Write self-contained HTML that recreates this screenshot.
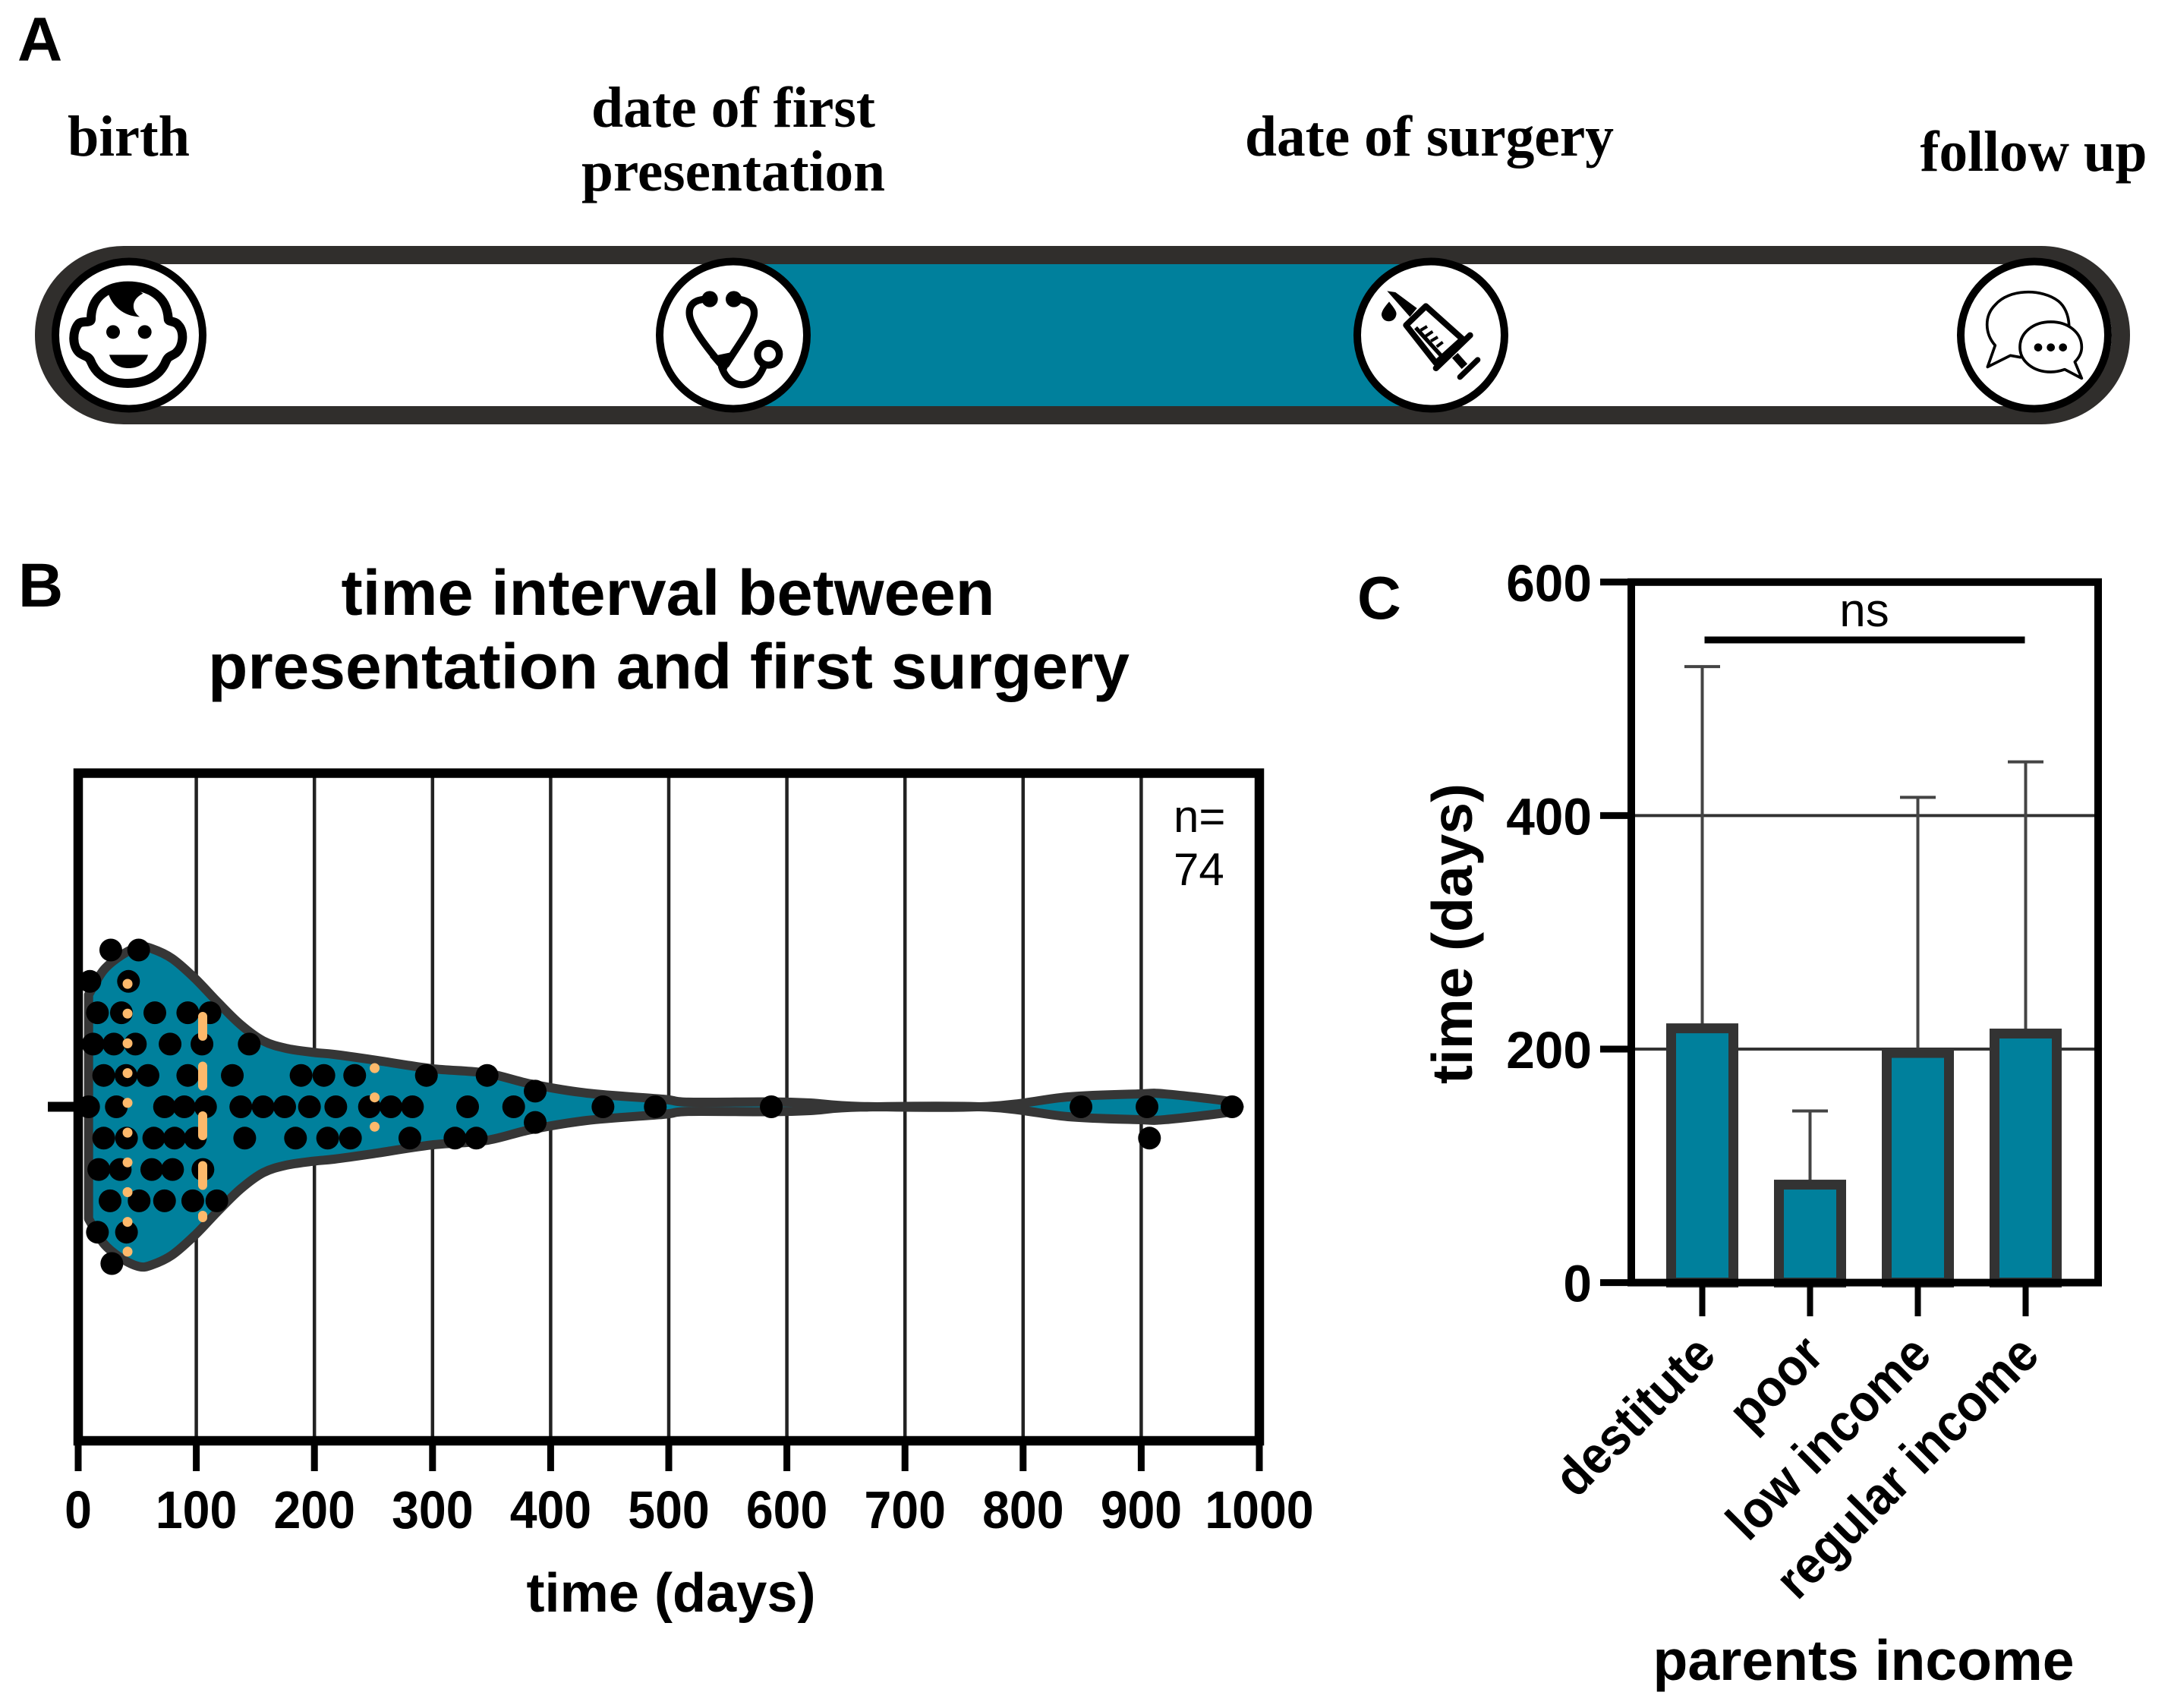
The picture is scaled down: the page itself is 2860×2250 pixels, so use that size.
<!DOCTYPE html>
<html lang="en">
<head>
<meta charset="utf-8">
<title>Time interval between presentation and first surgery</title>
<style>
html,body{margin:0;padding:0;background:#fff;width:2860px;height:2250px;overflow:hidden}
svg{display:block}
text{font-family:"Liberation Sans",sans-serif;fill:#000}
.serif{font-family:"Liberation Serif",serif;font-weight:bold}
.b{font-weight:bold}
</style>
</head>
<body>
<svg id="fig" xmlns="http://www.w3.org/2000/svg" width="2860" height="2250" viewBox="0 0 2860 2250">
  <rect width="2860" height="2250" fill="#fff"/>

  <!-- Panel A -->
  <g>
    <text class="b" x="23" y="80" font-size="82">A</text>
    <text class="serif" x="169.5" y="205" font-size="76" text-anchor="middle" textLength="161" lengthAdjust="spacingAndGlyphs">birth</text>
    <text class="serif" x="966" y="167" font-size="76" text-anchor="middle" textLength="374" lengthAdjust="spacingAndGlyphs">date of first</text>
    <text class="serif" x="966" y="251" font-size="76" text-anchor="middle" textLength="400" lengthAdjust="spacingAndGlyphs">presentation</text>
    <text class="serif" x="1883" y="205" font-size="76" text-anchor="middle" textLength="486" lengthAdjust="spacingAndGlyphs">date of surgery</text>
    <text class="serif" x="2679" y="225" font-size="76" text-anchor="middle" textLength="299" lengthAdjust="spacingAndGlyphs">follow up</text>

    <rect x="966" y="347" width="919" height="191" fill="#00809c"/>
    <rect x="58" y="336" width="2736" height="211" rx="105" ry="105" fill="none" stroke="#302e2c" stroke-width="24"/>

    <circle cx="170" cy="441.5" r="97" fill="#fff" stroke="#000" stroke-width="10"/>
    <circle cx="966" cy="441.5" r="97" fill="#fff" stroke="#000" stroke-width="10"/>
    <circle cx="1885" cy="441.5" r="97" fill="#fff" stroke="#000" stroke-width="10"/>
    <circle cx="2680" cy="441.5" r="97" fill="#fff" stroke="#000" stroke-width="10"/>

    <g transform="translate(40 320) scale(.33333)">
      <path d="M240 300C240 210 310 170 385 170C470 170 540 210 545 300C545 315 570 305 585 325C610 350 605 410 575 435C555 450 545 445 535 470C510 530 450 555 385 555C320 555 265 530 240 470C230 445 215 450 195 435C165 410 165 350 190 320C205 305 240 320 240 300Z" fill="#fff" stroke="#000" stroke-width="36" stroke-linejoin="round"/>
      <path d="M305 190C320 250 370 290 432 292C400 270 395 225 445 200C400 165 340 165 305 190Z" fill="#000"/>
      <circle cx="327" cy="352" r="27" fill="#000"/>
      <circle cx="452" cy="352" r="27" fill="#000"/>
      <path d="M312 442L465 442C455 480 420 495 388 495C355 495 322 480 312 442Z" fill="#000"/>
    </g>

    <g transform="translate(850 320) scale(.33333)" fill="none" stroke="#000" stroke-width="28" stroke-linecap="round">
      <circle cx="255" cy="222" r="32" fill="#000" stroke="none"/>
      <circle cx="350" cy="222" r="32" fill="#000" stroke="none"/>
      <path d="M250 222C200 222 170 240 175 285C180 330 240 410 300 480"/>
      <path d="M350 222C400 222 435 240 430 285C425 330 370 400 320 480"/>
      <path d="M255 450L350 430L315 520Z" fill="#000" stroke="none"/>
      <path d="M302 490C320 545 360 568 400 558C440 548 455 520 468 490"/>
      <circle cx="487" cy="440" r="43" fill="#fff" stroke-width="28"/>
    </g>

    <g transform="translate(1770 320) scale(.33333)" stroke="#000" fill="none" stroke-linejoin="round">
      <path d="M172 190L205 195L290 258L262 292Z" fill="#000" stroke="none"/>
      <path d="M180 232C200 258 212 272 208 285C202 318 155 318 150 285C150 265 170 245 180 232Z" fill="#000" stroke="none"/>
      <path d="M325 250L247 325L365 475L470 380Z" fill="#fff" stroke-width="24"/>
      <path d="M285 335L385 445" stroke-width="16"/>
      <path d="M305 345L330 330M325 368L352 350M345 388L372 372M368 410L392 392" stroke-width="12"/>
      <path d="M500 365L365 495" stroke-width="24" stroke-linecap="round"/>
      <path d="M440 445L478 488" stroke-width="30"/>
      <path d="M530 462L460 530" stroke-width="22" stroke-linecap="round"/>
    </g>

    <g transform="translate(2560 320) scale(.33333)" fill="#fff" stroke="#000" stroke-width="11" stroke-linejoin="round">
      <path d="M205 405C165 360 160 290 205 245C260 180 390 180 455 230C480 250 495 285 497 325L305 452L265 445L175 490Z"/>
      <path d="M425 312C495 312 547 355 547 412C547 435 535 455 520 470L547 535L480 500C460 507 440 510 425 510C355 510 303 467 303 412C303 355 355 312 425 312Z"/>
      <g fill="#000" stroke="none">
        <circle cx="375" cy="413" r="16"/>
        <circle cx="425" cy="413" r="16"/>
        <circle cx="473" cy="413" r="16"/>
      </g>
    </g>
  </g>

  <!-- Panel B static text -->
  <text class="b" x="24" y="799" font-size="82">B</text>
  <text class="b" x="880" y="810" font-size="84" text-anchor="middle" textLength="861" lengthAdjust="spacingAndGlyphs">time interval between</text>
  <text class="b" x="881" y="907" font-size="84" text-anchor="middle" textLength="1214" lengthAdjust="spacingAndGlyphs">presentation and first surgery</text>
  <text class="b" x="884" y="2123" font-size="72" text-anchor="middle" textLength="381" lengthAdjust="spacingAndGlyphs">time (days)</text>
  <g id="chartB"></g>
  <text x="1546" y="1096" font-size="60">n=</text>
  <text x="1546" y="1166" font-size="60">74</text>

  <!-- Panel C static text -->
  <text class="b" x="1788" y="815" font-size="80">C</text>
  <text class="b" transform="translate(1939 1230) rotate(-90)" font-size="75" text-anchor="middle" textLength="396" lengthAdjust="spacingAndGlyphs">time (days)</text>
  <text class="b" x="2455" y="2213" font-size="75" text-anchor="middle" textLength="555" lengthAdjust="spacingAndGlyphs">parents income</text>
  <g id="chartC"></g>
</svg>

<script>
/* ---------- Chart B data ---------- */
var xTickValues = [0,100,200,300,400,500,600,700,800,900,1000];
var violinDays = [8.8,21.6,36.6,51.6,62.3,79.5,98.8,118,137.3,156.6,175.9,199.5,216.6,248.7,298.9,345,383.6,430.7,495,516.6,586,620,662,770,838,897,920,975,983];
var violinDensity = [68,83,92,97,96,90,78,63.6,50,40,35.5,33,31.8,28.6,23.2,20.5,13.8,8.3,4.6,2.8,3,2.3,0.2,0.2,6,7.8,7.8,3.2,0];
var pointDays = [
  27.6,51.2,
  9.9,42.6,
  16.3,36.6,64.9,92.8,111.6,
  12.6,30.2,48.4,77.8,104.8,144.8,
  21.6,40.5,59.1,92.8,130.5,188.7,208,234.1,294.8,346.2,
  8.8,32.3,73.1,89.8,107.8,137.7,156.6,174.8,195.8,218.1,246.6,264.8,283,329.7,368.7,444.3,488.6,586.8,849,904.9,976.9,
  21.6,40.9,64,81.6,99.2,141,184,211.2,230.5,280.8,319,337,907,
  17.4,35.6,62.3,79.9,105.6,
  27,51.6,73.1,97,117.4,
  16.3,40.9,
  28.5,
  386.9,386.9
];
var pointRows = [
  -5,-5,
  -4,-4,
  -3,-3,-3,-3,-3,
  -2,-2,-2,-2,-2,-2,
  -1,-1,-1,-1,-1,-1,-1,-1,-1,-1,
  0,0,0,0,0,0,0,0,0,0,0,0,0,0,0,0,0,0,0,0,0,
  1,1,1,1,1,1,1,1,1,1,1,1,1,
  2,2,2,2,2,
  3,3,3,3,3,
  4,4,
  5,
  -0.5,0.5
];
var firstQuartileDay = 41.8;
var medianDay = 105.4;
var thirdQuartileDay = 251;

/* ---------- Chart C data ---------- */
var incomeCategories = ['destitute','poor','low income','regular income'];
var incomeMeans = [217.8,83.9,196.7,213.3];
var incomeErrorTops = [527.6,147,415.6,446];
var yTickValues = [0,200,400,600];
var SVGNS = 'http://www.w3.org/2000/svg';

function mk(parent, tag, attrs) {
  var el = document.createElementNS(SVGNS, tag);
  for (var k in attrs) el.setAttribute(k, attrs[k]);
  parent.appendChild(el);
  return el;
}

/* ---------- Chart B ---------- */
(function () {
  var g = document.getElementById('chartB');
  var x0 = 103, pxPerDay = 1.556, yc = 1458, rowStep = 41.3, pxPerDensity = 2.17;
  var top = 1018.5, bottom = 1898, right = x0 + 1000 * pxPerDay;
  function X(d) { return x0 + d * pxPerDay; }
  function H(v) { return v * pxPerDensity; }
  function Y(r) { return yc + r * rowStep; }

  xTickValues.forEach(function (t) {
    if (t > 0 && t < 1000) {
      var gl = mk(g, 'line', {x1: X(t), x2: X(t), y1: top, y2: bottom, stroke: '#222', 'stroke-width': 4.5});
      
      
    }
    var tk = mk(g, 'line', {x1: X(t), x2: X(t), y1: bottom, y2: 1938, stroke: '#000', 'stroke-width': 9});
    
    
    var s = String(t);
    var lb = mk(g, 'text', {x: X(t), y: 2013, 'font-size': 70, 'font-weight': 'bold', 'text-anchor': 'middle',
      textLength: s.length * 0.556 * 70 * 0.92, lengthAdjust: 'spacingAndGlyphs'});
    lb.textContent = s;
    
    
  });

  var yt = mk(g, 'line', {x1: 63, x2: x0, y1: yc, y2: yc, stroke: '#000', 'stroke-width': 13});
  
  

  var upper = violinDays.map(function (d, i) { return [X(d), yc - H(violinDensity[i])]; });
  var lower = violinDays.map(function (d, i) { return [X(d), yc + H(violinDensity[i])]; }).reverse();
  function smooth(p, start) {
    var s = start ? 'M' + p[0][0] + ' ' + p[0][1] : 'L' + p[0][0] + ' ' + p[0][1];
    for (var i = 0; i < p.length - 1; i++) {
      var a = p[Math.max(0, i - 1)], b = p[i], c = p[i + 1], e = p[Math.min(p.length - 1, i + 2)];
      s += 'C' + (b[0] + (c[0] - a[0]) / 6) + ' ' + (b[1] + (c[1] - a[1]) / 6) + ' ' +
           (c[0] - (e[0] - b[0]) / 6) + ' ' + (c[1] - (e[1] - b[1]) / 6) + ' ' + c[0] + ' ' + c[1];
    }
    return s;
  }
  var v = mk(g, 'path', {d: smooth(upper, true) + smooth(lower, false) + 'Z', fill: '#00809c', stroke: '#363636',
    'stroke-width': 12, 'stroke-linejoin': 'round'});
  
  

  pointDays.forEach(function (d, i) {
    var c = mk(g, 'circle', {cx: X(d), cy: Y(pointRows[i]), r: 15, fill: '#000'});
    
    
  });

  var q1 = mk(g, 'line', {x1: X(firstQuartileDay), x2: X(firstQuartileDay), y1: yc - 162, y2: yc + 191,
    stroke: '#fdb96b', 'stroke-width': 13, 'stroke-linecap': 'round', 'stroke-dasharray': '0.1 39.1'});
  
  
  var med = mk(g, 'line', {x1: X(medianDay), x2: X(medianDay), y1: yc - 119, y2: yc + 146,
    stroke: '#fdb96b', 'stroke-width': 12, 'stroke-linecap': 'round', 'stroke-dasharray': '26 39.5'});
  
  
  var q3 = mk(g, 'line', {x1: X(thirdQuartileDay), x2: X(thirdQuartileDay), y1: yc - 51, y2: yc + 27,
    stroke: '#fdb96b', 'stroke-width': 13, 'stroke-linecap': 'round', 'stroke-dasharray': '0.1 38.5'});
  
  

  var fr = mk(g, 'rect', {x: x0, y: top, width: right - x0, height: bottom - top, fill: 'none', stroke: '#000', 'stroke-width': 12.5});
  
  
})();

/* ---------- Chart C ---------- */
(function () {
  var g = document.getElementById('chartC');
  var left = 2149, right = 2764, y0 = 1689.6, pxPerDay = 1.538, firstX = 2242.5, step = 142, barW = 82;
  function Y(v) { return y0 - v * pxPerDay; }
  function X(i) { return firstX + i * step; }

  yTickValues.forEach(function (t) {
    if (t > 0 && t < 600) {
      var gl = mk(g, 'line', {x1: left, x2: right, y1: Y(t), y2: Y(t), stroke: '#333', 'stroke-width': 4});
      
      
    }
    var tk = mk(g, 'line', {x1: 2108, x2: left, y1: Y(t), y2: Y(t), stroke: '#000', 'stroke-width': 9});
    
    
    var s = String(t);
    var lb = mk(g, 'text', {x: 2097, y: Y(t) + 25, 'font-size': 69, 'font-weight': 'bold', 'text-anchor': 'end',
      textLength: s.length * 0.556 * 69 * 0.98, lengthAdjust: 'spacingAndGlyphs'});
    lb.textContent = s;
    
    
  });

  incomeCategories.forEach(function (c, i) {
    var x = X(i);
    var er = mk(g, 'line', {x1: x, x2: x, y1: Y(incomeErrorTops[i]), y2: Y(incomeMeans[i]), stroke: '#444', 'stroke-width': 4});
    
    
    var cap = mk(g, 'line', {x1: x - 23.5, x2: x + 23.5, y1: Y(incomeErrorTops[i]), y2: Y(incomeErrorTops[i]), stroke: '#444', 'stroke-width': 4});
    
    
    var b = mk(g, 'rect', {x: x - barW / 2, y: Y(incomeMeans[i]), width: barW, height: y0 - Y(incomeMeans[i]),
      fill: '#00809c', stroke: '#333', 'stroke-width': 13});
    
    
    var tk = mk(g, 'line', {x1: x, x2: x, y1: y0, y2: 1734, stroke: '#000', 'stroke-width': 8});
    
    
    var lb = mk(g, 'text', {transform: 'translate(' + (x + 21) + ' 1788) rotate(-45) scale(.92 1)', 'font-size': 69, 'font-weight': 'bold', 'text-anchor': 'end'});
    lb.textContent = c;
    
    
  });

  var fr = mk(g, 'rect', {x: left, y: Y(600), width: right - left, height: y0 - Y(600), fill: 'none', stroke: '#000', 'stroke-width': 10});
  
  

  var ns = mk(g, 'line', {x1: X(0) + 3, x2: X(3) - 1, y1: 843, y2: 843, stroke: '#000', 'stroke-width': 9});
  
  
  var nt = mk(g, 'text', {x: 2456, y: 825, 'font-size': 62, 'text-anchor': 'middle'});
  nt.textContent = 'ns';
  
  
})();
</script>
</body>
</html>
